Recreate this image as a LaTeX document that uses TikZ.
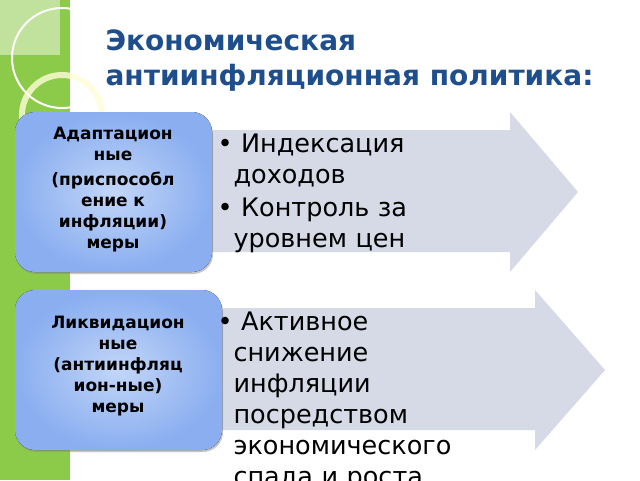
\documentclass[tikz,border=0pt]{standalone}
\usepackage{fontspec}
\setmainfont{DejaVu Sans}
\usetikzlibrary{positioning, calc, shadows}

\definecolor{titleblue}{HTML}{1F4E8C}
\definecolor{stripgreen}{HTML}{8CCB4A}
\definecolor{arrowgray}{HTML}{D5DAE6}
\definecolor{boxin}{HTML}{C2D6F8}
\definecolor{boxout}{HTML}{8AAEF0}

\tikzset{
  measure/.style={rounded corners=20pt, inner color=boxin, outer color=boxout,
    drop shadow={shadow xshift=1pt, shadow yshift=-2pt, fill=black!45}},
  measuretext/.style={text width=190pt, align=center, font=\bfseries\fontsize{17}{21}\selectfont},
  bullets/.style={text width=300pt, align=left, anchor=north west, font=\fontsize{25.5}{31}\selectfont},
}

\begin{document}
\begin{tikzpicture}[x=1pt, y=-1pt]
  \useasboundingbox (0,0) rectangle (640,480);
  \fill[white] (0,0) rectangle (640,480);

  % Green strip with rings
  \fill[stripgreen] (0,0) rectangle (70,480);
  \fill[stripgreen!55!white] (0,0) rectangle (60,55);
  \draw[white, line width=2pt] (62,58) circle (50);
  \draw[white!85!yellow, line width=6pt, opacity=0.8] (62,115) circle (40);

  % Title
  \node[anchor=north west, text=titleblue, align=left,
        font=\bfseries\fontsize{28}{35}\selectfont] (title) at (102,26)
    {Экономическая\\антиинфляционная политика:};

  % Arrows
  \fill[arrowgray] (200,130) -- (510,130) -- (510,112) -- (578,192)
    -- (510,272) -- (510,252) -- (200,252) -- cycle;
  \fill[arrowgray] (210,308) -- (535,308) -- (535,290) -- (605,370)
    -- (535,450) -- (535,430) -- (210,430) -- cycle;

  % Boxes
  \fill[measure] (15,112) rectangle (212,272);
  \fill[measure] (15,290) rectangle (222,450);
  \node[measuretext] (adapt) at (113,190)
    {Адаптацион\\ные\\[4pt](приспособл\\ение к\\инфляции)\\меры};
  \node[measuretext] (liquid) at (118,366)
    {Ликвидацион\\ные\\(антиинфляц\\ион-ные)\\меры};

  % Bullet lists
  \begin{scope}
    \clip (0,0) rectangle (640,480);
    \node[bullets] (list1) at (214,130)
      {\textbullet\ Индексация\\\hspace*{16pt}доходов\\[2pt]
       \textbullet\ Контроль за\\\hspace*{16pt}уровнем цен};
    \node[bullets] (list2) at (214,308)
      {\textbullet\ Активное\\\hspace*{16pt}снижение\\\hspace*{16pt}инфляции\\
       \hspace*{16pt}посредством\\\hspace*{16pt}экономического\\
       \hspace*{16pt}спада и роста};
  \end{scope}
\end{tikzpicture}
\end{document}
